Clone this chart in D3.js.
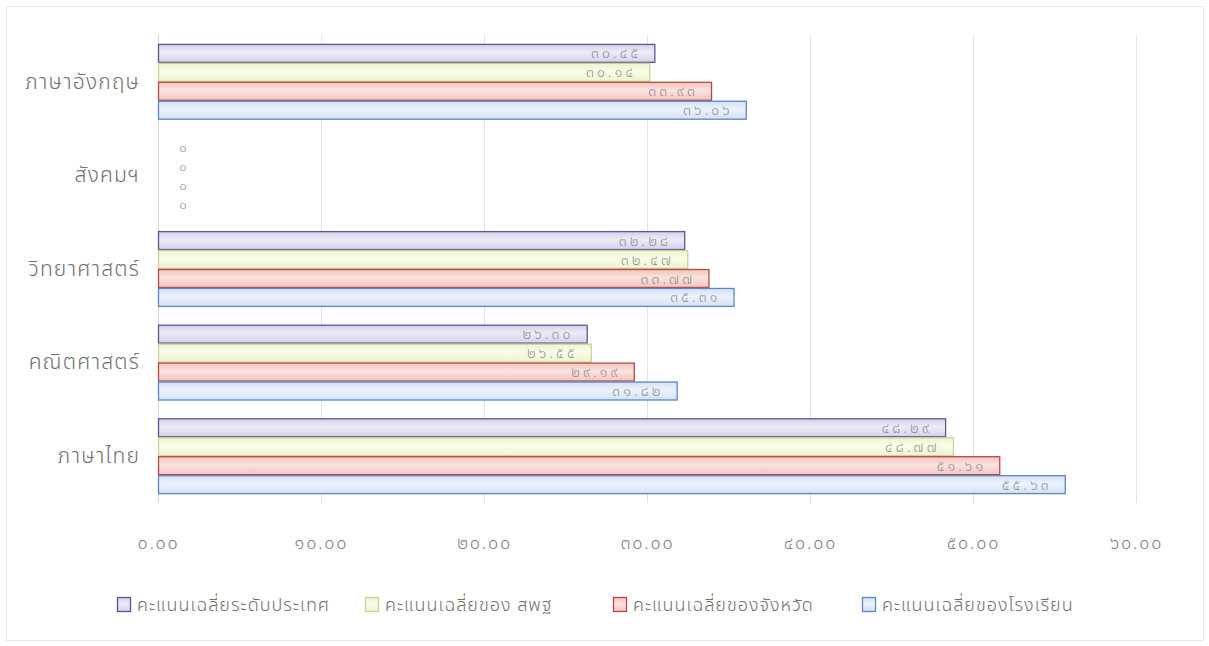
<!DOCTYPE html>
<html>
<head>
<meta charset="utf-8">
<script src="https://cdn.jsdelivr.net/npm/d3@7"></script>
<style>
  html, body { margin: 0; padding: 0; background: #ffffff; }
  svg text { font-family: "Noto Sans Thai", "Noto Sans", "DejaVu Sans", sans-serif; font-weight: 300; }
</style>
</head>
<body>
<svg id="chart" width="1209" height="646"></svg>
<script>
// ---- data ----
const categories = ["ภาษาอังกฤษ", "สังคมฯ", "วิทยาศาสตร์", "คณิตศาสตร์", "ภาษาไทย"];
const seriesNames = ["คะแนนเฉลี่ยระดับประเทศ", "คะแนนเฉลี่ยของ สพฐ", "คะแนนเฉลี่ยของจังหวัด", "คะแนนเฉลี่ยของโรงเรียน"];
const nationalScores = [30.45, 0, 32.28, 26.30, 48.29];
const obecScores     = [30.14, 0, 32.47, 26.55, 48.77];
const provinceScores = [33.93, 0, 33.77, 29.19, 51.61];
const schoolScores   = [36.06, 0, 35.31, 31.82, 55.63];
const tickValues = [0, 10, 20, 30, 40, 50, 60];

// ---- styles ----
const fills   = [["#d6cfea", "#eeebf7"], ["#eef3cf", "#fafce9"], ["#f2c4be", "#fbe2df"], ["#d3e1f5", "#ecf2fb"]];
const strokes = ["#5e5596", "#c7d394", "#b54a45", "#5b87c4"];

const thaiDigits = "๐๑๒๓๔๕๖๗๘๙";
const toThai = s => s.replace(/[0-9]/g, d => thaiDigits[+d]);
const fmt = v => toThai(v.toFixed(2));

const allSeries = [nationalScores, obecScores, provinceScores, schoolScores];
const rows = categories.map((c, i) => ({ cat: c, vals: allSeries.map(s => s[i]) }));

const svg = d3.select("#chart");
const plot = { left: 158, right: 1136, top: 35, bottom: 503 };

// outer border
svg.append("rect").attr("x", 6.5).attr("y", 6.5).attr("width", 1197).attr("height", 634)
  .attr("fill", "none").attr("stroke", "#e8e8e8").attr("stroke-width", 1);

// gradients
const defs = svg.append("defs");
fills.forEach((f, i) => {
  const g = defs.append("linearGradient").attr("id", "g" + i)
    .attr("x1", 0).attr("y1", 0).attr("x2", 0).attr("y2", 1);
  g.append("stop").attr("offset", "0%").attr("stop-color", f[0]);
  g.append("stop").attr("offset", "45%").attr("stop-color", f[1]);
  g.append("stop").attr("offset", "100%").attr("stop-color", f[0]);
});

const x = d3.scaleLinear().domain([0, 60]).range([plot.left, plot.right]);
const y = d3.scaleBand().domain(categories).range([plot.top, plot.bottom]).paddingInner(0.19).paddingOuter(0.095);
const ySub = d3.scaleBand().domain(d3.range(4)).range([0, y.bandwidth()]);

// gridlines
svg.append("g").selectAll("line").data(tickValues.slice(1)).join("line")
  .attr("x1", d => Math.round(x(d)) + 0.5).attr("x2", d => Math.round(x(d)) + 0.5)
  .attr("y1", plot.top).attr("y2", plot.bottom)
  .attr("stroke", "#e4e4e4").attr("stroke-width", 1);
svg.append("line").attr("x1", plot.left + 0.5).attr("x2", plot.left + 0.5)
  .attr("y1", plot.top).attr("y2", plot.bottom).attr("stroke", "#d8d8d8");

// x axis
const xAxis = d3.axisBottom(x).tickValues(tickValues).tickSize(0).tickPadding(0).tickFormat(fmt);
const gx = svg.append("g").attr("transform", `translate(0,${plot.bottom})`).call(xAxis);
gx.select(".domain").remove();
gx.selectAll("text").attr("dy", "46px").attr("fill", "#808080").style("font-size", "18px").style("letter-spacing", "1.8px");

// y axis
const yAxis = d3.axisLeft(y).tickSize(0).tickPadding(18);
const gy = svg.append("g").attr("transform", `translate(${plot.left},0)`).call(yAxis);
gy.select(".domain").remove();
gy.selectAll("text").attr("fill", "#707070").style("font-size", "21px").style("letter-spacing", "1.2px");

// bars
const groups = svg.append("g").selectAll("g").data(rows).join("g")
  .attr("transform", d => `translate(0,${y(d.cat)})`);

groups.selectAll("rect").data(d => d.vals.map((v, k) => ({ v, k }))).join("rect")
  .filter(d => d.v > 0)
  .attr("x", x(0) + 0.5)
  .attr("y", d => ySub(d.k) + 0.5)
  .attr("width", d => x(d.v) - x(0))
  .attr("height", ySub.bandwidth() - 1)
  .attr("fill", d => `url(#g${d.k})`)
  .attr("stroke", d => strokes[d.k])
  .attr("stroke-width", 1.3);

// data labels
groups.selectAll("text").data(d => d.vals.map((v, k) => ({ v, k }))).join("text")
  .attr("x", d => d.v > 0 ? x(d.v) - 13 : x(0) + 25)
  .attr("y", d => ySub(d.k) + ySub.bandwidth() / 2)
  .attr("dy", "0.36em")
  .attr("text-anchor", d => d.v > 0 ? "end" : "middle")
  .attr("fill", "#8c8c8c")
  .style("font-size", d => d.v > 0 ? "14px" : "13px")
  .style("letter-spacing", d => d.v > 0 ? "3.2px" : "0px")
  .text(d => d.v > 0 ? fmt(d.v) : toThai("0"));

// legend
const legendX = [117, 365, 613, 862];
const lg = svg.append("g").selectAll("g").data(seriesNames).join("g")
  .attr("transform", (d, i) => `translate(${legendX[i]},597)`);
lg.append("rect").attr("x", 0.5).attr("y", 0.5).attr("width", 13).attr("height", 14)
  .attr("fill", (d, i) => `url(#g${i})`).attr("stroke", (d, i) => strokes[i]).attr("stroke-width", 1.3);
lg.append("text").attr("x", 20).attr("y", 8).attr("dy", "0.36em")
  .attr("fill", "#707070").style("font-size", "18px").style("letter-spacing", "1px").text(d => d);
</script>
</body>
</html>
